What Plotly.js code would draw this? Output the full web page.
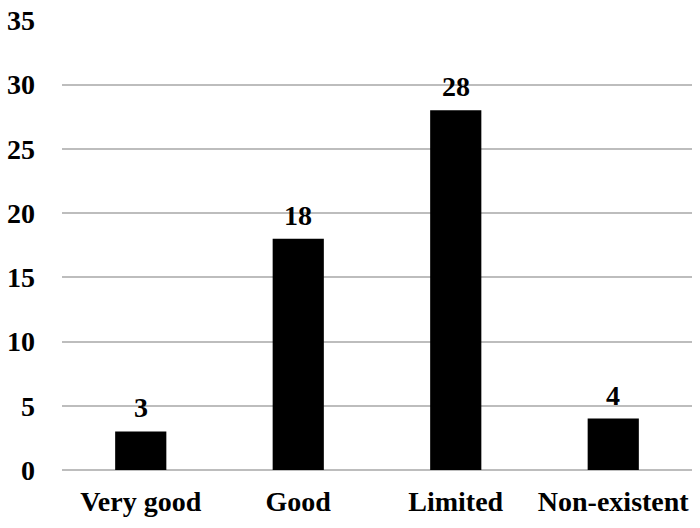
<!DOCTYPE html>
<html>
<head>
<meta charset="utf-8">
<script src="https://cdn.plot.ly/plotly-3.0.1.min.js"></script>
<style>html,body{margin:0;padding:0;background:#fff;}#chart{width:700px;height:528px;}</style>
</head>
<body>
<div id="chart"></div>
<script>
const categories = ["Very good", "Good", "Limited", "Non-existent"];
const counts = [3, 18, 28, 4];
const yTicks = [0, 5, 10, 15, 20, 25, 30, 35];

function mkFont() {
  return {family: "Liberation Serif", size: 28, color: "#000", weight: "bold"};
}

const data = [{
  type: "bar",
  x: categories,
  y: counts,
  marker: {color: "#000"},
  hoverinfo: "none"
}];

const annotations = categories.map((c, i) => ({
  x: c, y: counts[i], xref: "x", yref: "y",
  text: String(counts[i]), showarrow: false,
  yanchor: "bottom", yshift: 6, font: mkFont()
}));

const layout = {
  width: 700, height: 528,
  margin: {l: 62, r: 8, t: 20, b: 58},
  paper_bgcolor: "#fff", plot_bgcolor: "#fff",
  bargap: 0.675,
  showlegend: false,
  annotations: annotations,
  xaxis: {
    type: "category",
    showgrid: false, showline: false, zeroline: false,
    ticks: "", tickfont: mkFont(), ticklabelstandoff: 12
  },
  yaxis: {
    range: [0, 35.02], tickvals: yTicks, ticktext: yTicks.map(String),
    showgrid: true, gridcolor: "#bdbdbd", gridwidth: 2,
    zeroline: true, zerolinecolor: "#bdbdbd", zerolinewidth: 2,
    showline: false, ticks: "", tickfont: mkFont(), ticklabelstandoff: 26
  }
};

Plotly.newPlot("chart", data, layout, {staticPlot: true});
</script>
</body>
</html>
